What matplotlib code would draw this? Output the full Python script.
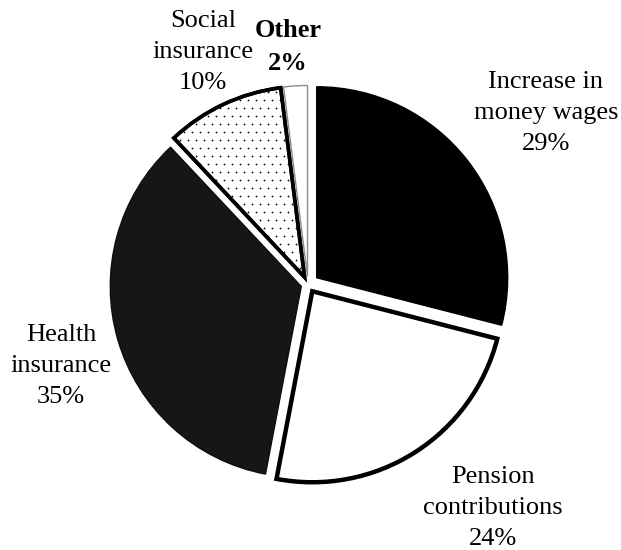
import numpy as np
import matplotlib.pyplot as plt

plt.rcParams['font.family'] = ['Liberation Serif', 'DejaVu Serif']

categories = ['Increase in\nmoney wages', 'Pension\ncontributions', 'Health\ninsurance',
              'Social\ninsurance', 'Other']
shares = [29, 24, 35, 10, 2]

# label anchor points, in pixel units of the 621x550 canvas
label_pos = [(546, 437), (493, 42), (61, 184), (203, 498), (288, 503)]

fig = plt.figure(figsize=(6.21, 5.5), dpi=100)
ax = fig.add_axes([0, 0, 1, 1])

# explode is given in data units here (1 unit = 1 px)
wedges, _ = ax.pie(shares, startangle=90, counterclock=False, center=(308, 265.5),
                   radius=191, explode=[11, 8, 7, 8, 8], frame=True)
ax.set_xlim(0, 621)
ax.set_ylim(0, 550)
ax.axis('off')

styles = [
    dict(facecolor='black', edgecolor='black', linewidth=1),
    dict(facecolor='white', edgecolor='black', linewidth=3.2),
    dict(facecolor='#161616', edgecolor='#0d0d0d', linewidth=1),
    dict(facecolor='white', edgecolor='black', linewidth=2.6),
    dict(facecolor='white', edgecolor='#8c8c8c', linewidth=1),
]
for w, st in zip(wedges, styles):
    w.set(**st)

# fine dot screen inside the social insurance slice
gx, gy = np.meshgrid(np.arange(100, 330, 8.0), np.arange(250, 480, 8.0))
gx[1::2] += 4
dots = ax.scatter(gx.ravel(), gy.ravel(), s=1.6, c='black', linewidths=0, zorder=3)
dots.set_clip_path(wedges[3])
wedges[3].set_zorder(2)
ax.add_patch(plt.matplotlib.patches.Wedge(wedges[3].center, wedges[3].r,
                                          wedges[3].theta1, wedges[3].theta2,
                                          facecolor='none', edgecolor='black',
                                          linewidth=2.6, zorder=4))

for i, (name, val) in enumerate(zip(categories, shares)):
    x, y = label_pos[i]
    weight = 'bold' if name == 'Other' else 'normal'
    ax.text(x, y, f'{name}\n{val}%', ha='center', va='center', fontsize=19,
            fontweight=weight, linespacing=1.55)

fig.savefig('out.png', dpi=100)
